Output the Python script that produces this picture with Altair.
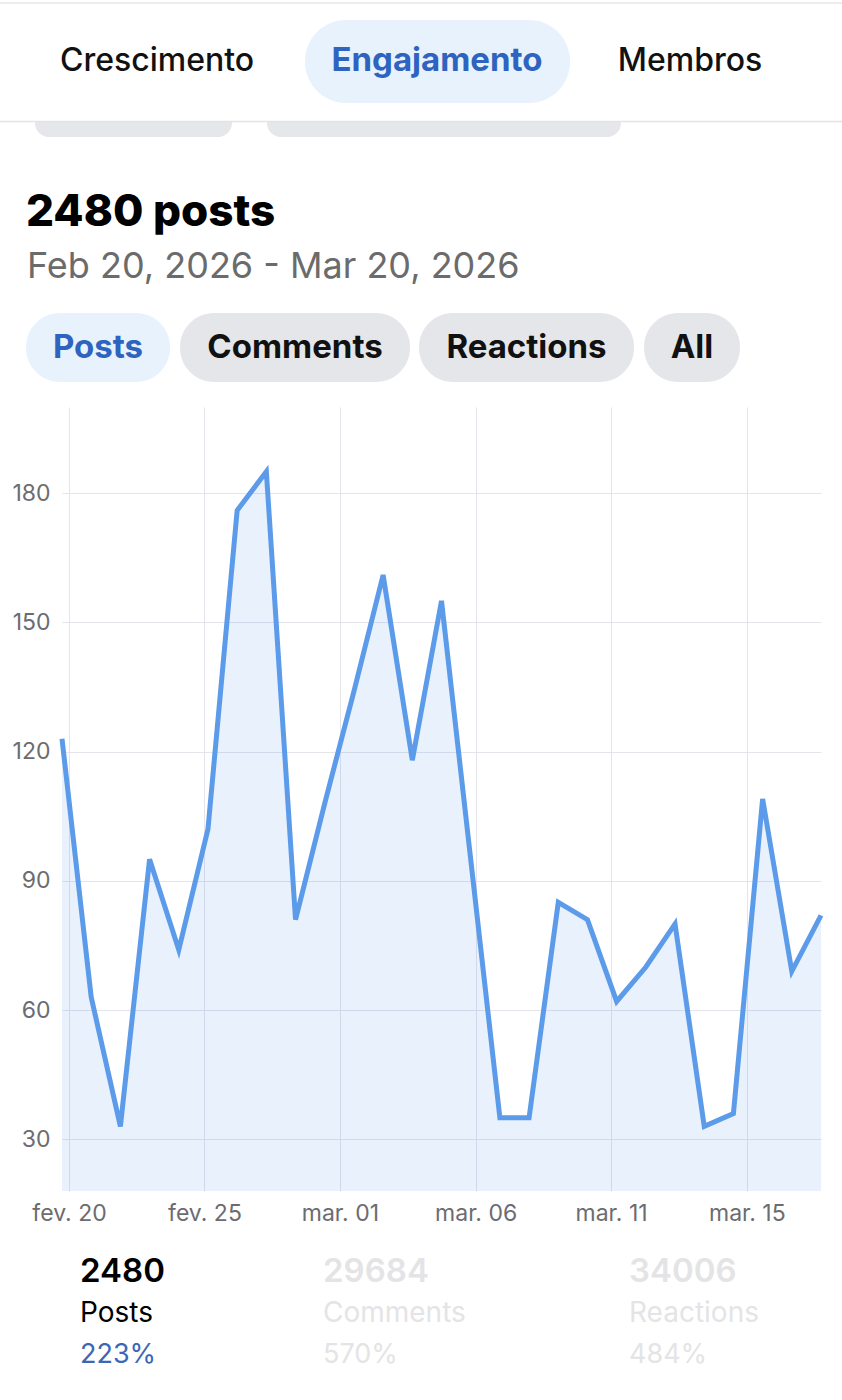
import altair as alt
import pandas as pd

# ---------------- data ----------------
DAY_INDEX = list(range(27))
POSTS = [123, 63, 33, 95, 74, 102, 176, 185, 81, 108, 134, 161, 118, 155, 95,
         35, 35, 85, 81, 62, 70, 80, 33, 36, 109, 69, 82]
X_TICKS = [0.24, 4.88, 9.52, 14.17, 18.81, 23.46]
X_LABELS = ["fev. 20", "fev. 25", "mar. 01", "mar. 06", "mar. 11", "mar. 15"]
Y_TICKS = [30, 60, 90, 120, 150, 180]
Y_DOMAIN = [18, 200]

TABS = ["Crescimento", "Engajamento", "Membros"]
TITLE = "2480 posts"
DATE_RANGE = "Feb 20, 2026 - Mar 20, 2026"
PILLS = ["Posts", "Comments", "Reactions", "All"]
STAT_VALUES = ["2480", "29684", "34006"]
STAT_NAMES = ["Posts", "Comments", "Reactions"]
STAT_PCTS = ["223%", "570%", "484%"]

# ---------------- layout ----------------
FONT = "Inter"
W, H = 842, 1400
L, T = 62, 407          # plot origin in page pixels
PW, PH = 759, 784       # plot size

LINE = "#5b9be9"
BLUE_TXT = "#2e64bf"
PILL_BLUE = "#e8f2fd"
PILL_GRAY = "#e5e6ea"
FADED = "#e4e4e6"
AXIS_TXT = "#6c6c70"
GRID = "#e4e4ea"

one = pd.DataFrame({"k": [0]})


def X(px):
    return px - L


def Y(py):
    return py - T


def text(s, x, y, size, color, weight=400, align="left"):
    return alt.Chart(one).mark_text(
        text=s, align=align, baseline="middle", font=FONT,
        fontSize=size, fontWeight=weight, color=color
    ).encode(x=alt.value(X(x)), y=alt.value(Y(y)))


def rect(x1, y1, x2, y2, color, r=0):
    return alt.Chart(one).mark_rect(color=color, cornerRadius=r).encode(
        x=alt.value(X(x1)), x2=alt.value(X(x2)),
        y=alt.value(Y(y1)), y2=alt.value(Y(y2)))


def hline(y, color, w=1):
    return alt.Chart(one).mark_rule(color=color, strokeWidth=w).encode(
        x=alt.value(X(0)), x2=alt.value(X(W)), y=alt.value(Y(y)))


# ---------------- chart ----------------
df = pd.DataFrame({"i": DAY_INDEX, "v": POSTS})

mids = [(X_TICKS[k] + X_TICKS[k + 1]) / 2 for k in range(len(X_TICKS) - 1)]
expr = "'" + X_LABELS[-1] + "'"
for k in range(len(mids) - 1, -1, -1):
    expr = f"datum.value < {mids[k]} ? '{X_LABELS[k]}' : " + expr

x_enc = alt.X("i:Q", scale=alt.Scale(domain=[0, 26], nice=False, zero=False),
              axis=alt.Axis(values=X_TICKS, labelExpr=expr, title=None,
                            grid=True, gridColor=GRID, domain=False, ticks=False,
                            labelFont=FONT, labelFontSize=23, labelColor=AXIS_TXT,
                            labelPadding=11, labelOverlap=False, labelFlush=False))
y_enc = alt.Y("v:Q", scale=alt.Scale(domain=Y_DOMAIN, nice=False, zero=False),
              axis=alt.Axis(values=Y_TICKS, title=None, grid=True, gridColor=GRID,
                            domain=False, ticks=False, labelFont=FONT,
                            labelFontSize=23, labelColor=AXIS_TXT, labelPadding=12))

base = alt.Chart(df)
area = base.mark_area(color=LINE, opacity=0.14).encode(
    x=x_enc, y=y_enc, y2=alt.datum(Y_DOMAIN[0]))
line = base.mark_line(color=LINE, strokeWidth=5).encode(x=x_enc, y=y_enc)

layers = [area, line]

# header: partial pills peeking under tab bar
layers += [
    rect(35, 95, 232, 137, "#e6e7ea", 14),
    rect(267, 95, 621, 137, "#e6e7ea", 14),
    rect(0, 0, W, 121, "#ffffff"),
    hline(3, "#e6e6e6", 1.5),
    hline(121.5, "#e3e3e3", 1.5),
    rect(305, 20, 570, 103, PILL_BLUE, 41),
    text(TABS[0], 157, 61, 32, "#111111", 500, "center"),
    text(TABS[1], 437, 61, 33, BLUE_TXT, 700, "center"),
    text(TABS[2], 690, 61, 32, "#111111", 500, "center"),
]

# title + date
layers += [
    text(TITLE, 26, 213, 44, "#000000", 800),
    text(DATE_RANGE, 27, 267, 36, "#6b6b6b", 400),
]

# filter pills
pill_boxes = [(26, 170), (180, 410), (419, 634), (644, 740)]
for k, (a, b) in enumerate(pill_boxes):
    bg = PILL_BLUE if k == 0 else PILL_GRAY
    fg = BLUE_TXT if k == 0 else "#111111"
    layers.append(rect(a, 313, b, 382, bg, 34))
    layers.append(text(PILLS[k], (a + b) / 2, 348, 33, fg, 700, "center"))

# bottom stats
stat_x = [80, 323, 629]
for k in range(3):
    c1 = "#000000" if k == 0 else FADED
    c3 = "#3a68b5" if k == 0 else FADED
    layers.append(text(STAT_VALUES[k], stat_x[k], 1272, 33, c1, 600))
    layers.append(text(STAT_NAMES[k], stat_x[k], 1314, 28, c1, 400))
    layers.append(text(STAT_PCTS[k], stat_x[k], 1355, 27, c3, 400))

chart = alt.layer(*layers).properties(
    width=PW, height=PH,
    autosize=alt.AutoSizeParams(type="none"),
    padding={"left": L, "top": T, "right": W - L - PW, "bottom": H - T - PH},
    background="#ffffff",
).configure_view(strokeWidth=0)

chart.save("out.html", embed_options={"renderer": "svg", "actions": False})
